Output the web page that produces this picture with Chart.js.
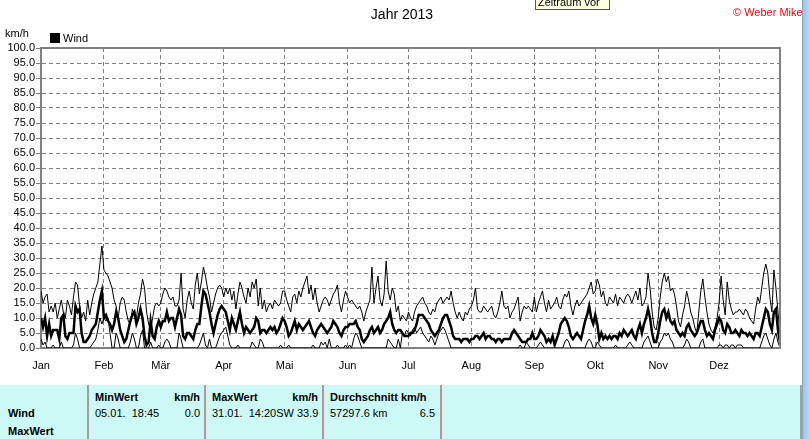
<!DOCTYPE html>
<html lang="de">
<head>
<meta charset="UTF-8">
<title>Wind Jahr 2013</title>
<script src="https://cdn.jsdelivr.net/npm/chart.js"></script>
<style>
  body { margin: 0; width: 810px; height: 439px; overflow: hidden; background: #fff;
         font-family: "Liberation Sans", Arial, sans-serif; font-size: 11px; color: #000; }
  .abs { position: absolute; white-space: nowrap; }
  #wrap { position: absolute; left: 0; top: 0; width: 802px; height: 385px; }
  #panel { position: absolute; left: 0; top: 385px; width: 802px; height: 54px; background: #ccf9f6; }
  .sep { position: absolute; top: 0; width: 2px; height: 54px; background: #a0a0a0; border-right: 1px solid #e8e8e8; }
  .b { font-weight: bold; }
  #strip { position: absolute; left: 802px; top: 0; width: 8px; height: 439px;
           background: linear-gradient(to right, #9fc3e3, #c4ddf2); border-left: 1px solid #8aa7c4; }
  #tip { position: absolute; left: 535px; top: -6px; width: 71px; height: 14px; background: #ffffe1;
         border: 1px solid #555; font-size: 11px; line-height: 14px; padding-left: 2px; }
</style>
</head>
<body>
<script>
// Tageswerte 2013 (km/h), je Monat eine Zeile
const monthLabels = ['Jan', 'Feb', 'Mär', 'Apr', 'Mai', 'Jun', 'Jul', 'Aug', 'Sep', 'Okt', 'Nov', 'Dez'];
const monthStarts = [0, 31, 59, 90, 120, 151, 181, 212, 243, 273, 304, 334];
const yTicks = [0, 5, 10, 15, 20, 25, 30, 35, 40, 45, 50, 55, 60, 65, 70, 75, 80, 85, 90, 95, 100];

const windMax = [
  19,15,17,18,12,14,12,15,10,13,16,12,10,16,14,11,17,22,21,14,10,12,9,16,11,15,18,20,22,28,34,
  26,25,24,22,20,16,14,10,15,17,16,12,9,8,13,11,10,15,18,23,20,12,8,6,10,14,15,14,
  15,18,20,19,17,16,17,14,14,16,25,13,10,16,19,15,13,21,25,18,22,27,24,20,17,12,15,18,20,21,20,
  17,20,18,20,16,19,13,18,22,20,17,15,20,17,22,20,23,14,20,13,16,12,14,15,13,16,15,14,15,19,
  19,16,14,12,17,18,15,19,17,20,22,24,18,21,16,20,15,12,14,16,17,16,14,16,18,19,21,15,12,16,19,
  17,15,16,15,14,13,14,12,9,12,14,16,27,15,20,24,16,14,18,29,19,16,20,18,12,14,9,11,10,9,
  12,10,9,12,14,15,16,17,15,14,12,11,13,12,15,16,17,15,16,17,16,19,15,12,10,12,10,9,12,11,13,
  14,16,20,13,12,12,14,13,12,13,14,11,10,12,15,19,14,13,14,10,12,13,15,17,9,12,14,13,14,13,12,
  17,12,15,17,19,15,12,16,13,14,15,17,14,13,16,18,17,19,14,11,14,16,14,15,16,17,18,20,22,18,
  19,23,21,17,19,15,14,17,16,15,18,14,17,16,15,17,18,17,15,17,19,16,20,14,15,17,25,20,12,7,6,
  10,17,22,25,22,24,19,20,18,14,9,7,11,14,19,16,12,10,7,5,12,19,23,17,12,8,6,5,7,10,
  15,24,16,11,22,16,13,11,12,12,13,12,11,13,12,10,9,8,13,17,15,20,25,28,25,17,12,26,20,12,5
];

const windAvg = [
  10,7,10,4,8,4,6,6,6,3,10,11,4,3,5,5,5,14,12,13,5,2,2,3,4,6,7,8,12,16,19,
  10,11,9,8,6,8,12,10,6,4,2,3,6,9,11,12,8,10,13,10,4,1,2,9,4,3,7,9,
  7,9,9,12,9,10,10,7,10,13,11,4,3,5,5,4,3,6,8,8,14,19,18,15,12,8,5,8,11,13,14,
  13,12,9,6,10,8,6,9,12,8,5,7,6,5,6,7,10,9,5,6,6,5,6,7,6,7,5,6,8,10,
  9,7,4,5,7,9,6,8,7,6,7,8,9,7,5,4,6,7,8,7,6,5,6,7,9,8,7,5,4,6,7,
  7,8,8,8,9,7,6,3,2,3,4,6,7,5,6,7,5,6,8,9,10,12,8,6,5,6,6,5,4,4,
  4,5,5,6,8,11,11,11,10,9,8,6,5,4,5,6,8,10,11,11,9,7,4,3,3,3,2,3,3,3,2,
  3,3,4,4,3,4,5,3,4,4,3,3,2,3,3,2,3,3,3,3,5,6,5,4,3,2,2,2,3,3,5,
  3,3,4,6,5,4,2,3,2,4,1,3,5,8,9,10,9,7,4,3,4,5,4,3,6,9,11,14,10,8,
  11,8,3,5,3,4,3,4,3,4,4,3,5,4,6,5,4,5,6,4,3,6,8,5,8,10,13,10,5,2,2,
  5,9,12,13,10,12,9,8,9,6,5,4,5,4,7,8,6,5,4,5,7,9,9,6,4,5,4,3,6,8,
  10,9,6,5,8,7,5,5,6,5,4,6,5,5,4,5,4,3,5,5,4,7,10,13,12,8,6,12,13,6,2
];

const windMin = [
  3,1,2,0,0,0,1,0,0,0,2,0,0,0,0,0,1,5,3,0,0,0,0,0,0,1,2,3,6,10,8,
  10,9,10,5,0,0,5,3,0,0,0,0,0,2,5,3,0,0,4,6,0,0,0,2,0,0,0,1,
  0,0,2,3,2,0,0,0,0,5,3,0,0,0,0,0,0,0,0,1,3,5,1,0,3,0,0,0,2,4,5,
  6,7,4,1,0,0,0,1,0,0,0,0,0,0,2,1,0,0,3,2,0,0,0,0,0,0,0,0,1,0,
  0,0,1,0,0,0,0,0,0,0,0,0,0,0,1,0,0,0,2,1,2,0,3,0,0,0,1,0,0,0,1,
  0,1,0,3,5,4,2,0,0,0,0,0,0,0,0,0,0,0,0,0,3,2,1,0,0,3,0,5,4,6,
  5,4,6,7,5,6,7,5,4,3,2,4,3,1,3,5,6,7,6,4,2,0,0,0,0,0,0,0,0,0,0,
  0,0,0,0,0,0,0,0,0,0,0,0,0,0,0,0,0,0,0,0,0,0,0,0,1,0,0,2,1,0,0,
  0,0,1,2,1,0,0,0,0,0,0,0,0,0,0,2,3,2,0,0,0,0,0,0,0,0,2,3,2,0,
  0,2,1,0,0,0,0,0,0,0,1,0,0,0,0,0,1,2,1,0,0,0,0,0,2,3,4,2,0,0,0,
  0,2,3,5,4,5,3,2,0,0,0,0,0,1,3,2,0,0,0,0,0,2,3,0,0,0,0,0,0,0,
  1,1,0,1,1,0,1,1,0,1,1,1,0,0,0,0,0,0,0,0,0,2,4,5,3,1,0,3,5,2,0
];

const GRAU = '#808080';

// Rahmen oben und rechts wie im Original
const rahmen = {
  id: 'rahmen',
  afterDraw(chart) {
    const {ctx, chartArea: a} = chart;
    ctx.save();
    ctx.strokeStyle = GRAU;
    ctx.lineWidth = 2;
    ctx.beginPath();
    ctx.moveTo(a.left, a.top);
    ctx.lineTo(a.right, a.top);
    ctx.lineTo(a.right, a.bottom);
    ctx.stroke();
    ctx.restore();
  }
};

function punkte(arr) {
  return arr.map((v, i) => ({x: i, y: v}));
}

document.addEventListener('DOMContentLoaded', function () {
  Chart.defaults.font.family = '"Liberation Sans", Arial, sans-serif';
  Chart.defaults.font.size = 11;
  Chart.defaults.color = '#000';

  const ctx = document.getElementById('windChart').getContext('2d');
  new Chart(ctx, {
    type: 'line',
    data: {
      datasets: [
        {label: 'Max', data: punkte(windMax), borderColor: '#000', borderWidth: 1},
        {label: 'Min', data: punkte(windMin), borderColor: '#000', borderWidth: 1},
        {label: 'Wind', data: punkte(windAvg), borderColor: '#000', borderWidth: 2.5}
      ]
    },
    options: {
      responsive: false,
      animation: false,
      events: [],
      elements: {point: {radius: 0}, line: {tension: 0}},
      layout: {padding: {top: 48, right: 22, left: 0, bottom: 0}},
      plugins: {legend: {display: false}, title: {display: false}, tooltip: {enabled: false}},
      scales: {
        x: {
          type: 'linear',
          min: 0,
          max: 364,
          afterBuildTicks: s => { s.ticks = monthStarts.map(v => ({value: v})); },
          afterFit: s => { s.height = 37; },
          ticks: {
            autoSkip: false,
            maxRotation: 0,
            padding: 11,
            callback: v => monthLabels[monthStarts.indexOf(v)]
          },
          grid: {color: GRAU, drawTicks: false},
          border: {color: GRAU, width: 2, dash: [4, 3]}
        },
        y: {
          min: 0,
          max: 100,
          afterBuildTicks: s => { s.ticks = yTicks.map(v => ({value: v})); },
          afterFit: s => { s.width = 41; },
          ticks: {autoSkip: false, padding: 1, callback: v => v.toFixed(1)},
          grid: {color: GRAU, tickLength: 5, tickBorderDash: []},
          border: {color: GRAU, width: 2, dash: [4, 3]}
        }
      }
    },
    plugins: [rahmen]
  });
});
</script>

<div id="wrap"><canvas id="windChart" width="802" height="385"></canvas></div>

<div class="abs" style="left:0; width:804px; top:6px; text-align:center; font-size:14px;">Jahr 2013</div>
<div id="tip">Zeitraum vor</div>
<div class="abs" style="left:733px; top:6px; color:#ff0000;">© Weber Mike</div>
<div class="abs" style="left:5px; top:27px;">km/h</div>
<div class="abs" style="left:50px; top:33px; width:10px; height:10px; background:#000;"></div>
<div class="abs" style="left:63px; top:32px;">Wind</div>

<div id="panel">
  <div class="sep" style="left:87px;"></div>
  <div class="sep" style="left:204px;"></div>
  <div class="sep" style="left:322px;"></div>
  <div class="sep" style="left:440px;"></div>
  <div class="sep" style="left:800px;"></div>

  <div class="abs b" style="left:8px; top:22px;">Wind</div>
  <div class="abs b" style="left:8px; top:40px;">MaxWert</div>

  <div class="abs b" style="left:95px; top:6px;">MinWert</div>
  <div class="abs b" style="left:150px; width:50px; top:6px; text-align:right;">km/h</div>
  <div class="abs" style="left:95px; top:22px;">05.01.&nbsp; 18:45</div>
  <div class="abs" style="left:160px; width:40px; top:22px; text-align:right;">0.0</div>

  <div class="abs b" style="left:212px; top:6px;">MaxWert</div>
  <div class="abs b" style="left:268px; width:50px; top:6px; text-align:right;">km/h</div>
  <div class="abs" style="left:212px; top:22px;">31.01.&nbsp; 14:20SW 33.9</div>

  <div class="abs b" style="left:330px; top:6px;">Durchschnitt km/h</div>
  <div class="abs" style="left:330px; top:22px;">57297.6 km</div>
  <div class="abs" style="left:395px; width:40px; top:22px; text-align:right;">6.5</div>
</div>
<div id="strip"></div>
</body>
</html>
